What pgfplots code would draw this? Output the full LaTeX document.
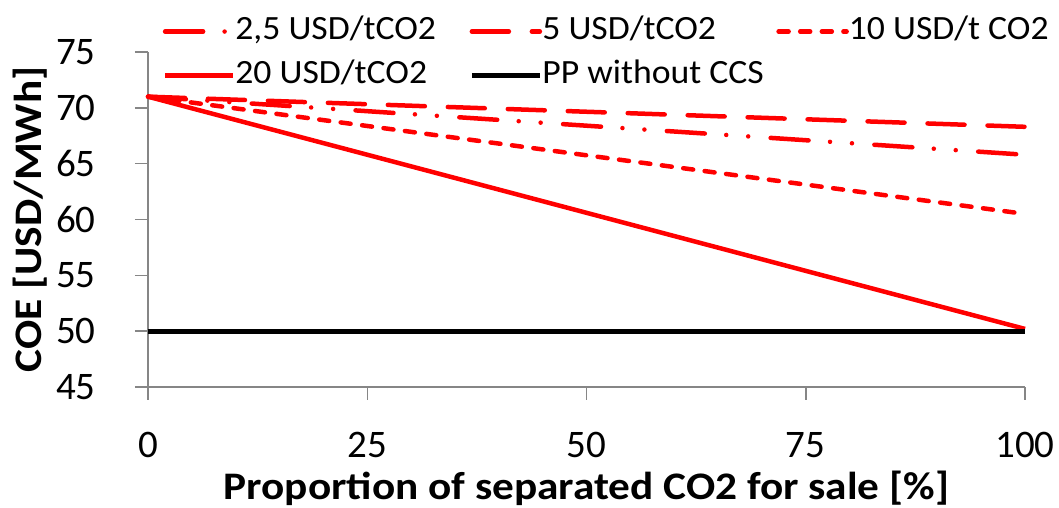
\documentclass[border=0pt]{standalone}
\usepackage{fontspec}
\setmainfont{Carlito}
\newfontfamily\labelfont[FakeStretch=1.11]{Carlito}
\newfontfamily\legfont[FakeStretch=1.05]{Carlito}
\usepackage{pgfplots}
\pgfplotsset{compat=1.18}
\definecolor{axgray}{RGB}{134,134,134}
\definecolor{myred}{RGB}{255,0,0}
\newcommand{\legtxt}[1]{\makebox[117pt][l]{#1}}
\begin{document}
\begin{tikzpicture}
\begin{axis}[
  scale only axis, width=438.5pt, height=167.5pt,
  xmin=0, xmax=100, ymin=45, ymax=75,
  axis x line*=bottom, axis y line*=left,
  axis line style={axgray, line width=0.75pt},
  tick style={axgray, line width=0.75pt},
  major tick length=6.5pt, tick align=outside,
  xtick={0,25,50,75,100}, ytick={45,50,...,75},
  minor tick num=0,
  tick label style={font=\fontsize{19.5}{23}\selectfont},
  xticklabel style={anchor=north, inner sep=0pt, yshift=-16pt},
  yticklabel style={anchor=east, inner sep=0pt, xshift=-19.5pt},
  /pgf/number format/assume math mode=true,
  xlabel={Proportion of separated CO2 for sale [\%]},
  ylabel={COE [USD/MWh]},
  every axis x label/.style={at={(axis description cs:0.5,-0.3373)}, anchor=base,
    font=\fontsize{19.5}{23}\selectfont\labelfont\bfseries},
  every axis y label/.style={at={(axis description cs:-0.1209,0.5)}, rotate=90, anchor=base,
    font=\fontsize{19.5}{23}\selectfont\labelfont\bfseries},
  clip=false,
  legend columns=3,
  legend cell align=left,
  legend image code/.code={\draw[#1] (0pt,0pt) -- (34pt,0pt);},
  legend style={at={(axis description cs:0.0165,1.11)}, anchor=north west,
    draw=none, fill=none, inner sep=0pt, column sep=0pt, row sep=6pt,
    font=\fontsize{17}{20}\selectfont\legfont,
    nodes={inner sep=0pt, text height=12pt, text depth=4pt}},
]
\addplot[myred, line width=2.25pt, line cap=round,
  dash pattern=on 19pt off 10.75pt on 0pt off 11pt on 0pt off 11.25pt]
  coordinates {(0,71) (100,65.8)};
\addlegendentry{\legtxt{2,5 USD/tCO2}}
\addplot[myred, line width=2.25pt, line cap=round,
  dash pattern=on 18.5pt off 11.5pt]
  coordinates {(0,71) (100,68.3)};
\addlegendentry{\legtxt{5 USD/tCO2}}
\addplot[myred, line width=2.25pt, line cap=round,
  dash pattern=on 5pt off 5.8pt]
  coordinates {(0,71) (100,60.5)};
\addlegendentry{\legtxt{10 USD/t CO2}}
\addplot[myred, line width=2.25pt]
  coordinates {(0,71) (100,50.2)};
\addlegendentry{\legtxt{20 USD/tCO2}}
\addplot[black, line width=2.5pt]
  coordinates {(0,50) (100,50)};
\addlegendentry{\legtxt{PP without CCS}}
\coordinate (bl) at (rel axis cs:0,0);
\coordinate (tr) at (rel axis cs:1,1);
\end{axis}
\pgfresetboundingbox
\path ([xshift=-74pt,yshift=-60.5pt]bl) rectangle ([xshift=17pt,yshift=26pt]tr);
\end{tikzpicture}
\end{document}
